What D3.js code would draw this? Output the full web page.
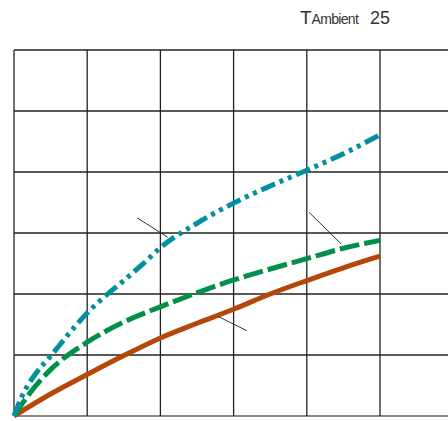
<!DOCTYPE html>
<html>
<head>
<meta charset="utf-8">
<script src="https://cdn.jsdelivr.net/npm/d3@7"></script>
<style>
  html, body { margin: 0; padding: 0; background: #fff; }
  svg { display: block; }
</style>
</head>
<body>
<div id="main"></div>
<script>
// grid units: 5 columns x 6 rows, curves
var xTicks = [0, 1, 2, 3, 4, 5];
var yTicks = [0, 1, 2, 3, 4, 5, 6];

var tealX = [0, 0.1, 0.3, 0.5, 0.75, 1, 1.25, 1.5, 1.75, 2, 2.5, 3, 3.5, 4, 4.5, 5];
var tealY = [0, 0.3, 0.7, 0.98, 1.35, 1.69, 1.97, 2.22, 2.48, 2.76, 3.16, 3.49, 3.77, 4.03, 4.3, 4.61];

var greenX = [0, 0.2, 0.5, 1, 1.5, 2, 2.5, 3, 3.5, 4, 4.5, 5];
var greenY = [0, 0.35, 0.76, 1.21, 1.54, 1.79, 2.02, 2.23, 2.41, 2.58, 2.75, 2.88];

var orangeX = [0, 0.5, 1, 1.5, 2, 2.5, 3, 3.5, 4, 4.5, 5];
var orangeY = [0, 0.36, 0.68, 0.99, 1.28, 1.52, 1.75, 2.0, 2.22, 2.43, 2.62];

// leader lines, in grid units [x1, y1, x2, y2]
var leaders = [
  [1.68, 3.25, 2.1, 2.93],
  [4.03, 3.34, 4.47, 2.82],
  [2.79, 1.63, 3.18, 1.4]
];

var width = 448, height = 421;
var svg = d3.select("#main").append("svg")
  .attr("width", width).attr("height", height);

var x = d3.scaleLinear().domain([0, 5]).range([14, 380]);
var y = d3.scaleLinear().domain([0, 6]).range([416, 50]);

var grid = svg.append("g").attr("class", "grid");

// horizontal lines run off the right edge
yTicks.forEach(function (t) {
  grid.append("line")
    .attr("x1", x(0)).attr("x2", width)
    .attr("y1", y(t)).attr("y2", y(t))
    .attr("stroke", t == 0 ? "#888" : "#222")
    .attr("stroke-width", t == 0 ? 2 : 1.3);
});
xTicks.forEach(function (t) {
  grid.append("line")
    .attr("x1", x(t)).attr("x2", x(t))
    .attr("y1", y(6)).attr("y2", y(0))
    .attr("stroke", "#222")
    .attr("stroke-width", 1.3);
});

var line = d3.line()
  .x(function (d) { return x(d[0]); })
  .y(function (d) { return y(d[1]); })
  .curve(d3.curveMonotoneX);

function drawSeries(xs, ys, color, dash) {
  svg.append("path")
    .datum(d3.zip(xs, ys))
    .attr("d", line)
    .attr("fill", "none")
    .attr("stroke", color)
    .attr("stroke-width", 5)
    .attr("stroke-dasharray", dash);
}

drawSeries(orangeX, orangeY, "#b5470a", null);
drawSeries(greenX, greenY, "#00904a", "20,5");
drawSeries(tealX, tealY, "#00909e", "15,5,4,5,4,5");

leaders.forEach(function (l) {
  svg.append("line")
    .attr("x1", x(l[0])).attr("y1", y(l[1]))
    .attr("x2", x(l[2])).attr("y2", y(l[3]))
    .attr("stroke", "#333").attr("stroke-width", 1);
});

var title = svg.append("text")
  .attr("x", 300).attr("y", 24)
  .attr("fill", "#333")
  .style("font-family", "Liberation Sans, Arial, sans-serif");
title.append("tspan").text("T").style("font-size", "19px");
title.append("tspan").text("Ambient").style("font-size", "14px").style("letter-spacing", "-0.7px");
title.append("tspan").attr("x", 370).text("25").style("font-size", "18px");
</script>
</body>
</html>
